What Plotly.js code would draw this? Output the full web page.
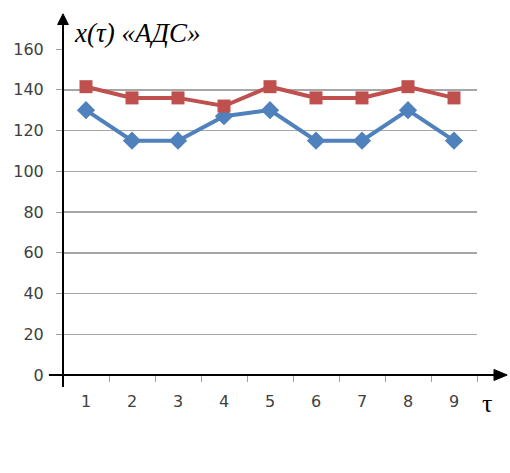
<!DOCTYPE html>
<html>
<head>
<meta charset="utf-8">
<script src="https://cdn.plot.ly/plotly-3.0.1.min.js"></script>
<style>
  html, body { margin: 0; padding: 0; background: #fff; }
  #chart { width: 510px; height: 473px; }
</style>
</head>
<body>
<div id="chart"></div>
<script>
// τ steps and the two series of x(τ)
const tauLabels = ['1', '2', '3', '4', '5', '6', '7', '8', '9'];
const seriesBlue = [130, 115, 115, 127, 130, 115, 115, 130, 115];
const seriesRed = [141.5, 136, 136, 132, 141.5, 136, 136, 141.5, 136];
const yTicks = [0, 20, 40, 60, 80, 100, 120, 140, 160];

const traces = [
  {
    x: tauLabels, y: seriesBlue, type: 'scatter', mode: 'lines+markers',
    line: { color: '#4f81bd', width: 4 },
    marker: { symbol: 'diamond', size: 14, color: '#4f81bd' },
    cliponaxis: false, hoverinfo: 'skip'
  },
  {
    x: tauLabels, y: seriesRed, type: 'scatter', mode: 'lines+markers',
    line: { color: '#c0504d', width: 4 },
    marker: { symbol: 'square', size: 13, color: '#c0504d' },
    cliponaxis: false, hoverinfo: 'skip'
  }
];

const tickFont = { family: 'DejaVu Sans, Verdana, sans-serif', size: 16, color: '#404040' };

const layout = {
  width: 510, height: 473,
  margin: { l: 63, r: 33, t: 49, b: 98 },
  paper_bgcolor: '#fff', plot_bgcolor: '#fff',
  showlegend: false,
  xaxis: {
    type: 'category', range: [-0.5, 8.5],
    tickson: 'boundaries', ticks: 'outside', ticklen: 6, tickwidth: 1, tickcolor: '#a0a0a0',
    ticklabelstandoff: 15,
    showgrid: false, zeroline: false, showline: false,
    tickfont: tickFont, fixedrange: true
  },
  yaxis: {
    range: [0, 160], tickmode: 'array', tickvals: yTicks,
    ticktext: yTicks.map(String),
    ticks: 'outside', ticklen: 6, tickwidth: 1, tickcolor: '#a0a0a0',
    ticklabelstandoff: 9,
    showgrid: true, gridcolor: '#a6a6a6', gridwidth: 1.5,
    zeroline: false, showline: false,
    tickfont: tickFont, fixedrange: true
  },
  shapes: [
    // horizontal axis with arrow
    { type: 'line', xref: 'paper', yref: 'paper', x0: -0.034, x1: 1.045, y0: 0, y1: 0,
      line: { color: '#000', width: 2 } },
    { type: 'path', xref: 'paper', yref: 'paper',
      path: 'M 1.041 0.017 L 1.073 0 L 1.041 -0.017 Z',
      fillcolor: '#000', line: { color: '#000', width: 1 } },
    // vertical axis with arrow
    { type: 'line', xref: 'paper', yref: 'paper', x0: 0, x1: 0, y0: -0.037, y1: 1.08,
      line: { color: '#000', width: 2 } },
    { type: 'path', xref: 'paper', yref: 'paper',
      path: 'M -0.013 1.075 L 0 1.108 L 0.013 1.075 Z',
      fillcolor: '#000', line: { color: '#000', width: 1 } }
  ],
  annotations: [
    { xref: 'paper', yref: 'paper', x: 0.022, y: 1.05, xanchor: 'left', yanchor: 'middle',
      text: '<i>x(τ) «АДС»</i>', showarrow: false,
      font: { family: 'Liberation Serif, Times New Roman, serif', size: 27, color: '#000' } },
    { xref: 'paper', yref: 'paper', x: 1.024, y: -0.086, xanchor: 'center', yanchor: 'middle',
      text: 'τ', showarrow: false,
      font: { family: 'Liberation Serif, Times New Roman, serif', size: 26, color: '#000' } }
  ]
};

Plotly.newPlot('chart', traces, layout, { displayModeBar: false, staticPlot: true });
</script>
</body>
</html>
